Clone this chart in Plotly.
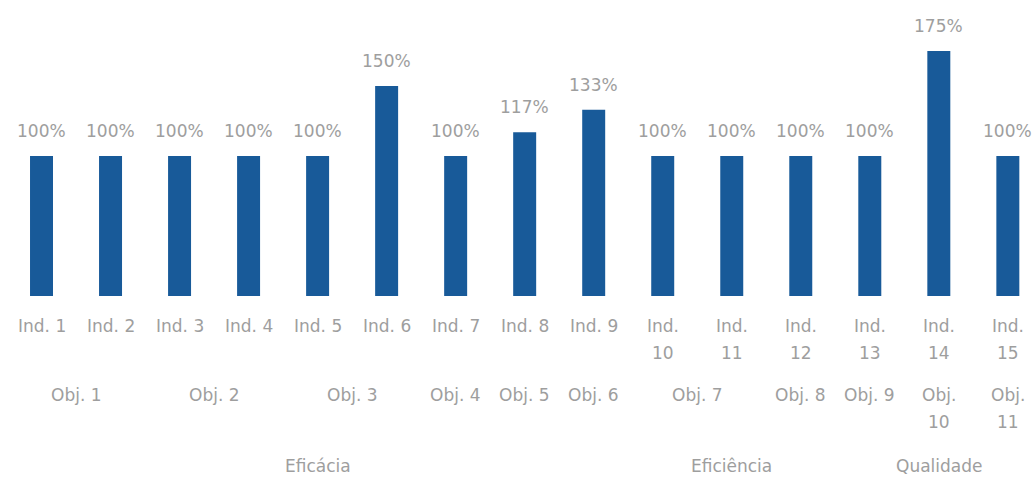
import plotly.graph_objects as go

# Indicator results (% of target) grouped by objective and dimension
indicators = ["Ind. 1", "Ind. 2", "Ind. 3", "Ind. 4", "Ind. 5", "Ind. 6", "Ind. 7",
              "Ind. 8", "Ind. 9", "Ind. 10", "Ind. 11", "Ind. 12", "Ind. 13",
              "Ind. 14", "Ind. 15"]
results = [100, 100, 100, 100, 100, 150, 100, 117, 133, 100, 100, 100, 100, 175, 100]

objectives = ["Obj. 1", "Obj. 2", "Obj. 3", "Obj. 4", "Obj. 5", "Obj. 6", "Obj. 7",
              "Obj. 8", "Obj. 9", "Obj. 10", "Obj. 11"]
objective_sizes = [2, 2, 2, 1, 1, 1, 2, 1, 1, 1, 1]

dimensions = ["Eficácia", "Eficiência", "Qualidade"]
dimension_sizes = [9, 3, 3]

BAR = "#185A99"
TXT = "#9e9e9e"
FONT = "DejaVu Sans"
FS = 17

x = list(range(len(indicators)))

fig = go.Figure(go.Bar(
    x=x, y=results,
    marker=dict(color=BAR, line=dict(width=0)),
    hoverinfo="x+y",
))

# value labels floating above each bar
for i, v in zip(x, results):
    fig.add_annotation(x=i, y=v, xref="x", yref="y", text=f"{v}%",
                       showarrow=False, yanchor="middle", yshift=25,
                       font=dict(family=FONT, size=FS, color=TXT))


def add_label(xc, text, shift):
    fig.add_annotation(x=xc, y=0, xref="x", yref="paper", text=text,
                       showarrow=False, yanchor="middle", yshift=shift,
                       font=dict(family=FONT, size=FS, color=TXT))


def add_wrapped(xc, label, shift, wrap):
    if wrap and " " in label:
        first, second = label.split(" ", 1)
        add_label(xc, first, shift)
        add_label(xc, second, shift - 27)
    else:
        add_label(xc, label, shift)


# indicator row
for i, lab in enumerate(indicators):
    add_wrapped(i, lab, -30, len(lab) > 6)

# objective row
start = 0
for lab, n in zip(objectives, objective_sizes):
    add_wrapped(start + (n - 1) / 2, lab, -99, n == 1 and len(lab) > 6)
    start += n

# dimension row
start = 0
for lab, n in zip(dimensions, dimension_sizes):
    add_label(start + (n - 1) / 2, lab, -170)
    start += n

fig.update_layout(
    width=1032, height=477,
    margin=dict(l=7, r=0, t=0, b=181),
    paper_bgcolor="white", plot_bgcolor="white",
    bargap=0.667,
    showlegend=False,
    xaxis=dict(range=[-0.5, 14.35], showticklabels=False, showgrid=False,
               zeroline=False, showline=False, ticks=""),
    yaxis=dict(range=[0, 211.4], visible=False),
)

fig.write_html("out.html")
